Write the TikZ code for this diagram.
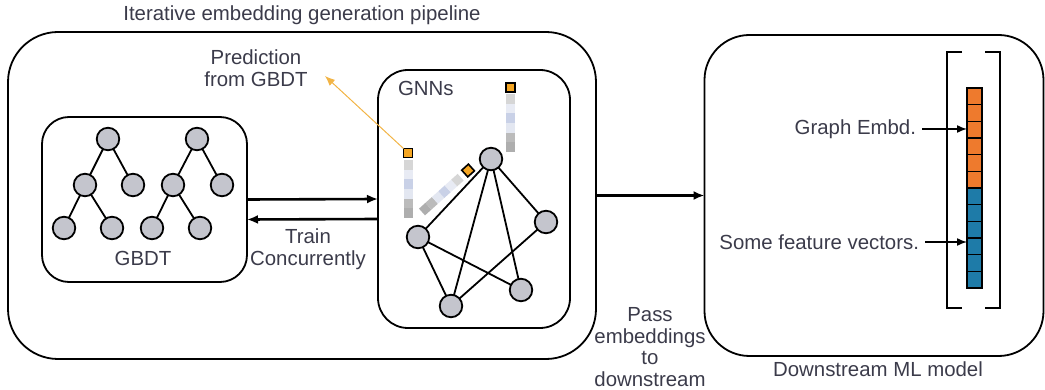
\documentclass[tikz,border=0pt]{standalone}
\usepackage{fontspec}
\setmainfont{Liberation Sans}
\usepackage{xcolor}
\usepackage{tikz}
\usetikzlibrary{arrows.meta,calc,positioning}
\definecolor{txtgray}{HTML}{3B3B4A}
\definecolor{nodegray}{HTML}{C4C5CD}
\definecolor{embOrange}{HTML}{EE7A2D}
\definecolor{embBlue}{HTML}{1E7BA8}
\definecolor{predGold}{HTML}{F5A623}
\definecolor{predLine}{HTML}{F2B446}
\definecolor{stA}{HTML}{D6D6D6}
\definecolor{stB}{HTML}{E8EBF4}
\definecolor{stC}{HTML}{C9D1E7}
\definecolor{stD}{HTML}{E3E7F1}
\definecolor{stE}{HTML}{BBBBBB}
\definecolor{stF}{HTML}{AEAEAE}

\begin{document}
\begin{tikzpicture}[
    x=1pt, y=-1pt,
    font=\fontsize{20.4}{21.6}\selectfont,
    nosep/.style={inner sep=0, outer sep=0},
    panel/.style={draw, nosep, line width=1.8pt, rounded corners=#1},
    vtx/.style={circle, draw, nosep, line width=1.8pt, fill=nodegray, minimum size=22.5pt},
    link/.style={line width=1.8pt},
    lbl/.style={text=txtgray, align=center, nosep},
    flow/.style={line width=2.6pt, -{Latex[length=11pt,width=9pt]}},
    pointer/.style={line width=1.5pt, -{Latex[length=10pt,width=8pt]}},
    cell/.style={draw, nosep, line width=1.3pt, minimum width=15pt, minimum height=16.67pt},
    predsq/.style={draw, nosep, line width=1.6pt, fill=predGold, minimum size=9pt}]
\useasboundingbox (0,0) rectangle (1045,390);

\node[panel=50, minimum width=588pt, minimum height=327pt] (pipe) at (302,195.5) {};
\node[panel=27, minimum width=205pt, minimum height=165pt] (gbdt) at (144.5,199.5) {};
\node[panel=30, minimum width=192pt, minimum height=258pt] (gnn) at (474,199) {};
\node[panel=45, minimum width=339pt, minimum height=321pt] (model) at (874,195.5) {};

\node[lbl, anchor=base] (ttlPipe) at (302,21) {Iterative embedding generation pipeline};
\node[lbl, anchor=base] (ttlModel) at (878,376) {Downstream ML model};
\node[lbl, anchor=base] (ttlGbdt) at (143,266) {GBDT};
\node[lbl, anchor=base west] (ttlGnn) at (398,96) {GNNs};
\node[lbl] (train) at (308,249) {Train\\Concurrently};
\node[lbl] (pred) at (256,68) {Prediction\\from GBDT};
\node[lbl] (pass) at (650,347) {Pass\\embeddings\\to\\downstream};

\node[vtx] (a1) at (108,139) {};
\node[vtx] (a2) at (85,185) {};
\node[vtx] (a3) at (133,185) {};
\node[vtx] (a4) at (64,228) {};
\node[vtx] (a5) at (112,228) {};
\node[vtx] (b1) at (197,139) {};
\node[vtx] (b2) at (173,185) {};
\node[vtx] (b3) at (222,185) {};
\node[vtx] (b4) at (152,228) {};
\node[vtx] (b5) at (200,228) {};
\draw[link] (a1) -- (a2) (a1) -- (a3) (a2) -- (a4) (a2) -- (a5);
\draw[link] (b1) -- (b2) (b1) -- (b3) (b2) -- (b4) (b2) -- (b5);

\draw[flow] (gbdt.east) -- (gnn.west);
\draw[flow] ([yshift=-20pt]gnn.west) -- ([yshift=-20pt]gbdt.east);
\draw[flow] (pipe.east) -- (model.west);

\foreach \c [count=\i] in {stA,stB,stC,stD,stE,stF}
    \fill[\c] (404,{150.3+9.67*\i}) rectangle (413,{160+9.67*\i});
\foreach \c [count=\i] in {stA,stB,stC,stD,stE,stF}
    \fill[\c] (506,{84.3+9.67*\i}) rectangle (515,{94+9.67*\i});
\begin{scope}[shift={(422,212)}, rotate=42]
\foreach \c [count=\i] in {stF,stE,stD,stC,stB,stA}
    \fill[\c] ({8.67*(\i-1)},-4.5) rectangle ({8.67*\i},4.5);
\node[predsq, rotate=42] (sqD) at (62,0) {};
\end{scope}
\node[predsq] (sqL) at (408,153) {};
\node[predsq] (sqR) at (510.5,87.5) {};
\coordinate (predTip) at (325,76);
\draw[pointer, predLine, line width=1pt] (sqL.north west) -- (predTip);

\node[vtx] (g1) at (491,159) {};
\node[vtx] (g2) at (546,222) {};
\node[vtx] (g3) at (418,237) {};
\node[vtx] (g4) at (451,306) {};
\node[vtx] (g5) at (521,290) {};
\draw[link] (g1) -- (g3) (g1) -- (g4) (g1) -- (g5) (g1) -- (g2);
\draw[link] (g3) -- (g4) (g3) -- (g5) (g2) -- (g4);

\draw[line width=1.8pt] (962,52) -- (947,52) -- (947,308) -- (962,308);
\draw[line width=1.8pt] (985,52) -- (1000,52) -- (1000,308) -- (985,308);
\foreach \i in {1,...,6}
    \node[cell, fill=embOrange] (c\i) at (974.5,{79.67+16.67*\i}) {};
\foreach \i in {7,...,12}
    \node[cell, fill=embBlue] (c\i) at (974.5,{79.67+16.67*\i}) {};

\node[lbl, anchor=east] (gemb) at (916,129) {Graph Embd.};
\node[lbl, anchor=east] (feat) at (919,242) {Some feature vectors.};
\draw[pointer] ([xshift=6pt]gemb.east) -- (gemb.east -| c3.west);
\draw[pointer] ([xshift=6pt]feat.east) -- (feat.east -| c10.west);

\end{tikzpicture}
\end{document}
